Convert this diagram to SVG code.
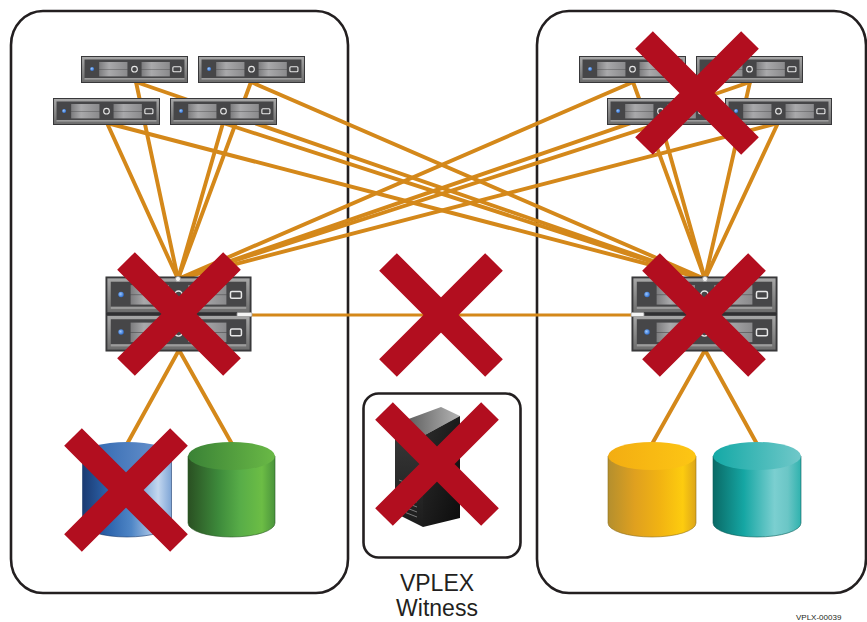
<svg xmlns="http://www.w3.org/2000/svg" xmlns:xlink="http://www.w3.org/1999/xlink" width="867" height="622" viewBox="0 0 867 622">
  <style>
    .panel { fill: #ffffff; stroke: #231f20; stroke-width: 2.6; }
    .link { stroke: #d4881a; stroke-width: 3.9; stroke-linecap: round; fill: none; }
    .fail { stroke: #b20e1f; stroke-width: 25; stroke-linecap: butt; fill: none; }
    .label { font-family: "Liberation Sans", Arial, sans-serif; fill: #231f20; text-anchor: middle; }
    .port { fill: #f4f4f4; stroke: #9a9a9a; stroke-width: 0.8; }
  </style>
  <defs>
    <linearGradient id="bezel" x1="0" y1="0" x2="0" y2="1">
      <stop offset="0" stop-color="#a8a8a8"/>
      <stop offset="0.5" stop-color="#8a8a8a"/>
      <stop offset="1" stop-color="#6c6c6c"/>
    </linearGradient>
    <linearGradient id="bay" x1="0" y1="0" x2="1" y2="0">
      <stop offset="0" stop-color="#7c7c7e"/>
      <stop offset="0.35" stop-color="#a9a9ab"/>
      <stop offset="1" stop-color="#8a8a8c"/>
    </linearGradient>
    <radialGradient id="led" cx="0.4" cy="0.4" r="0.6">
      <stop offset="0" stop-color="#9cc8ff"/>
      <stop offset="1" stop-color="#2f6fd0"/>
    </radialGradient>

    <!-- 1U rack unit, reused for hosts and (scaled) for the director -->
    <symbol id="rack" viewBox="0 0 106 27" preserveAspectRatio="none">
      <rect x="0.5" y="0.5" width="105" height="26" fill="url(#bezel)" stroke="#38383a" stroke-width="1"/>
      <rect x="3.5" y="3.5" width="99" height="18.5" fill="#464648"/>
      <rect x="3.5" y="22" width="99" height="1.6" fill="#9c9c9c"/>
      <circle cx="11" cy="13" r="2" fill="url(#led)"/>
      <rect x="18" y="6" width="28" height="7" fill="url(#bay)"/>
      <rect x="18" y="13.4" width="28" height="7" fill="url(#bay)"/>
      <circle cx="53" cy="13.2" r="2.8" fill="none" stroke="#e8e8e8" stroke-width="1.1"/>
      <rect x="60" y="6" width="28" height="7" fill="url(#bay)"/>
      <rect x="60" y="13.4" width="28" height="7" fill="url(#bay)"/>
      <rect x="91" y="10.8" width="8" height="5" rx="1" fill="none" stroke="#e8e8e8" stroke-width="1.1"/>
    </symbol>

    <!-- storage cylinder colours -->
    <linearGradient id="blueBody" x1="0" y1="0" x2="1" y2="0">
      <stop offset="0" stop-color="#1a3a72"/>
      <stop offset="0.3" stop-color="#2e66ae"/>
      <stop offset="0.55" stop-color="#4f86c6"/>
      <stop offset="0.85" stop-color="#c3d7ef"/>
      <stop offset="1" stop-color="#7ea5d6"/>
    </linearGradient>
    <linearGradient id="blueTop" x1="0" y1="0" x2="1" y2="0">
      <stop offset="0" stop-color="#2b63ad"/>
      <stop offset="1" stop-color="#6f98d0"/>
    </linearGradient>
    <linearGradient id="greenBody" x1="0" y1="0" x2="1" y2="0">
      <stop offset="0" stop-color="#2a5022"/>
      <stop offset="0.35" stop-color="#3d8a3b"/>
      <stop offset="0.6" stop-color="#58ad48"/>
      <stop offset="0.85" stop-color="#6cbd45"/>
      <stop offset="1" stop-color="#4a943c"/>
    </linearGradient>
    <linearGradient id="greenTop" x1="0" y1="0" x2="1" y2="0">
      <stop offset="0" stop-color="#3a8236"/>
      <stop offset="1" stop-color="#6ab946"/>
    </linearGradient>
    <linearGradient id="yellowBody" x1="0" y1="0" x2="1" y2="0">
      <stop offset="0" stop-color="#b48f2e"/>
      <stop offset="0.3" stop-color="#dfa01f"/>
      <stop offset="0.6" stop-color="#f2b412"/>
      <stop offset="0.85" stop-color="#fdcc0f"/>
      <stop offset="1" stop-color="#dca51a"/>
    </linearGradient>
    <linearGradient id="yellowTop" x1="0" y1="0" x2="1" y2="0">
      <stop offset="0" stop-color="#f3ad12"/>
      <stop offset="1" stop-color="#fdc614"/>
    </linearGradient>
    <linearGradient id="tealBody" x1="0" y1="0" x2="1" y2="0">
      <stop offset="0" stop-color="#0a6a66"/>
      <stop offset="0.35" stop-color="#15a6a3"/>
      <stop offset="0.7" stop-color="#7bcfd0"/>
      <stop offset="0.85" stop-color="#6bc6c6"/>
      <stop offset="1" stop-color="#2fb2ae"/>
    </linearGradient>
    <linearGradient id="tealTop" x1="0" y1="0" x2="1" y2="0">
      <stop offset="0" stop-color="#14a9a6"/>
      <stop offset="1" stop-color="#70c8c9"/>
    </linearGradient>

    <!-- tower colours -->
    <linearGradient id="towerTop" x1="0" y1="0" x2="1" y2="0">
      <stop offset="0" stop-color="#4a4a4a"/>
      <stop offset="1" stop-color="#b5b5b5"/>
    </linearGradient>
    <linearGradient id="towerFront" x1="0" y1="0" x2="0" y2="1">
      <stop offset="0" stop-color="#3a3a3a"/>
      <stop offset="1" stop-color="#1c1c1c"/>
    </linearGradient>
    <linearGradient id="towerSide" x1="0" y1="0" x2="1" y2="1">
      <stop offset="0" stop-color="#2c2c2c"/>
      <stop offset="1" stop-color="#0c0c0c"/>
    </linearGradient>

    <!-- failure mark -->
    <path id="xmark" class="fail" d="M-53,-53 L53,53 M53,-53 L-53,53"/>
  </defs>

  <!-- site enclosures -->
  <g id="site-a">
    <rect class="panel" x="11" y="11" width="337" height="582" rx="32" ry="34"/>
  </g>
  <g id="site-b">
    <rect class="panel" x="537" y="11" width="329" height="582" rx="32" ry="34"/>
  </g>

  <!-- cabling -->
  <g id="connectors" class="link">
    <!-- site A hosts to both directors -->
    <line x1="136" y1="82" x2="178" y2="279"/>
    <line x1="251" y1="82" x2="178" y2="279"/>
    <line x1="107" y1="123" x2="178" y2="279"/>
    <line x1="223" y1="123" x2="178" y2="279"/>
    <line x1="136" y1="82" x2="705" y2="279"/>
    <line x1="251" y1="82" x2="705" y2="279"/>
    <line x1="107" y1="123" x2="705" y2="279"/>
    <line x1="223" y1="123" x2="705" y2="279"/>
    <!-- site B hosts to both directors -->
    <line x1="633" y1="82" x2="705" y2="279"/>
    <line x1="750" y1="82" x2="705" y2="279"/>
    <line x1="661" y1="123" x2="705" y2="279"/>
    <line x1="778" y1="123" x2="705" y2="279"/>
    <line x1="633" y1="82" x2="178" y2="279"/>
    <line x1="750" y1="82" x2="178" y2="279"/>
    <line x1="661" y1="123" x2="178" y2="279"/>
    <line x1="778" y1="123" x2="178" y2="279"/>
    <!-- inter-cluster link -->
    <line x1="250" y1="315" x2="634" y2="315" stroke-width="3.2"/>
    <!-- directors to back-end arrays -->
    <line x1="179" y1="350" x2="127" y2="444"/>
    <line x1="179" y1="350" x2="232" y2="444"/>
    <line x1="705" y1="350" x2="652" y2="444"/>
    <line x1="705" y1="350" x2="757" y2="444"/>
  </g>

  <!-- hosts, site A -->
  <g id="host-a1"><use xlink:href="#rack" x="81" y="56" width="107" height="27"/></g>
  <g id="host-a2"><use xlink:href="#rack" x="198" y="56" width="107" height="27"/></g>
  <g id="host-a3"><use xlink:href="#rack" x="53" y="98" width="107" height="27"/></g>
  <g id="host-a4"><use xlink:href="#rack" x="170" y="98" width="107" height="27"/></g>

  <!-- hosts, site B -->
  <g id="host-b1"><use xlink:href="#rack" x="579" y="56" width="107" height="27"/></g>
  <g id="host-b2"><use xlink:href="#rack" x="696" y="56" width="107" height="27"/></g>
  <g id="host-b3"><use xlink:href="#rack" x="607" y="98" width="107" height="27"/></g>
  <g id="host-b4"><use xlink:href="#rack" x="725" y="98" width="107" height="27"/></g>

  <!-- VPLEX directors -->
  <g id="director-a">
    <rect x="105.5" y="276.5" width="146" height="75" fill="#2e2e30"/>
    <use xlink:href="#rack" x="106" y="277" width="145" height="36.5"/>
    <use xlink:href="#rack" x="106" y="314.5" width="145" height="36.5"/>
    <circle class="port" cx="178" cy="279" r="2.6"/>
    <rect class="port" x="237" y="312.5" width="15" height="4" rx="1"/>
  </g>
  <g id="director-b">
    <rect x="631.5" y="276.5" width="146" height="75" fill="#2e2e30"/>
    <use xlink:href="#rack" x="632" y="277" width="145" height="36.5"/>
    <use xlink:href="#rack" x="632" y="314.5" width="145" height="36.5"/>
    <circle class="port" cx="705" cy="279" r="2.6"/>
    <rect class="port" x="631" y="312.5" width="13" height="4" rx="1"/>
  </g>

  <!-- back-end storage -->
  <g id="array-a1">
    <path d="M82.5,456 L82.5,523 A44.5,14 0 0 0 171.5,523 L171.5,456 Z" fill="url(#blueBody)" stroke="#1d3c6e" stroke-width="0.6"/>
    <ellipse cx="127" cy="456" rx="44.5" ry="14" fill="url(#blueTop)"/>
  </g>
  <g id="array-a2">
    <path d="M188,456 L188,523 A43.5,14 0 0 0 275,523 L275,456 Z" fill="url(#greenBody)" stroke="#2a5a25" stroke-width="0.6"/>
    <ellipse cx="231.5" cy="456" rx="43.5" ry="14" fill="url(#greenTop)"/>
  </g>
  <g id="array-b1">
    <path d="M608,456 L608,523 A44,14 0 0 0 696,523 L696,456 Z" fill="url(#yellowBody)" stroke="#8f6e1c" stroke-width="0.6"/>
    <ellipse cx="652" cy="456" rx="44" ry="14" fill="url(#yellowTop)"/>
  </g>
  <g id="array-b2">
    <path d="M713,456 L713,523 A44,14 0 0 0 801,523 L801,456 Z" fill="url(#tealBody)" stroke="#0b5f5b" stroke-width="0.6"/>
    <ellipse cx="757" cy="456" rx="44" ry="14" fill="url(#tealTop)"/>
  </g>

  <!-- witness -->
  <g id="witness">
    <rect class="panel" x="363.5" y="393.5" width="157" height="164" rx="15"/>
    <polygon points="395,424 441,407 460,416 423,436" fill="url(#towerTop)"/>
    <polygon points="395,424 423,436 423,527 395,513" fill="url(#towerFront)"/>
    <polygon points="423,436 460,416 460,518 423,527" fill="url(#towerSide)"/>
    <g stroke="#7a7a7a" stroke-width="1">
      <line x1="399" y1="480" x2="417" y2="487"/>
      <line x1="399" y1="485" x2="417" y2="492"/>
      <line x1="399" y1="490" x2="417" y2="497"/>
      <line x1="399" y1="495" x2="417" y2="502"/>
      <line x1="399" y1="500" x2="417" y2="507"/>
      <line x1="399" y1="505" x2="417" y2="512"/>
      <line x1="399" y1="510" x2="417" y2="517"/>
    </g>
    <text class="label" x="437" y="591" font-size="23">VPLEX</text>
    <text class="label" x="437" y="616" font-size="23">Witness</text>
  </g>

  <!-- failure marks -->
  <g id="failures">
    <use xlink:href="#xmark" x="697" y="93"/>
    <use xlink:href="#xmark" x="179" y="314"/>
    <use xlink:href="#xmark" x="441" y="315"/>
    <use xlink:href="#xmark" x="704" y="315"/>
    <use xlink:href="#xmark" x="437" y="464"/>
    <use xlink:href="#xmark" x="126" y="490"/>
  </g>

  <text x="796" y="620" font-family="Liberation Sans, Arial, sans-serif" font-size="8" fill="#231f20">VPLX-00039</text>
</svg>
